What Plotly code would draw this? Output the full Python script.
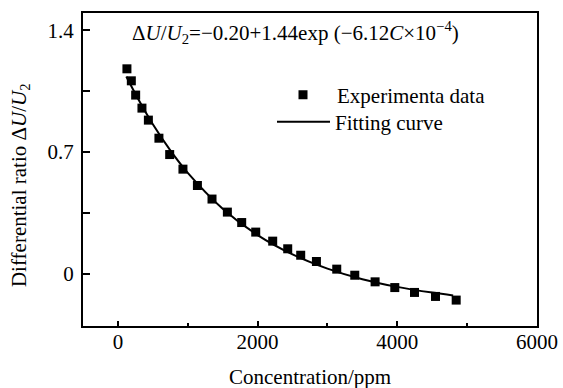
import plotly.graph_objects as go

conc = [129, 192, 254, 344, 436, 587, 741, 931, 1138, 1347, 1567, 1772,
        1973, 2216, 2431, 2617, 2842, 3133, 3391, 3682, 3964, 4246, 4547, 4843]
ratio = [1.179, 1.110, 1.028, 0.953, 0.884, 0.780, 0.686, 0.602, 0.508, 0.430, 0.355, 0.295,
         0.240, 0.188, 0.144, 0.107, 0.071, 0.027, -0.008, -0.046, -0.079, -0.107, -0.130, -0.151]

# Fitting curve
fit_conc = [120, 300, 500, 750, 1000, 1500, 2000, 2500, 3000, 3500, 4000, 4500, 4800]
fit_ratio = [1.135, 0.998, 0.860, 0.710, 0.581, 0.375, 0.223, 0.112, 0.030, -0.031, -0.075, -0.108, -0.124]

x_ticks = [0, 2000, 4000, 6000]
y_ticks = [0, 0.7, 1.4]

FONT = "Liberation Serif"

fig = go.Figure()
fig.add_trace(go.Scatter(
    x=conc, y=ratio, mode="markers", name="Experimenta data", legend="legend",
    marker=dict(symbol="square", size=9, color="black", line=dict(width=0)),
))
fig.add_trace(go.Scatter(
    x=fit_conc, y=fit_ratio, mode="lines", name="Fitting curve", legend="legend2",
    line=dict(color="black", width=2, shape="spline", smoothing=1.0),
))

fig.update_layout(
    width=563, height=388,
    margin=dict(l=83, r=26, t=13, b=62),
    paper_bgcolor="white", plot_bgcolor="white",
    font=dict(family=FONT, size=21, color="black"),
    showlegend=True,
    legend=dict(
        x=(269 - 83) / 454, y=0.803, xanchor="left", yanchor="top",
        bgcolor="rgba(0,0,0,0)", borderwidth=0,
        font=dict(family=FONT, size=21, color="black"),
        itemwidth=58,
    ),
    legend2=dict(
        x=(272 - 83) / 454, y=0.717, xanchor="left", yanchor="top",
        bgcolor="rgba(0,0,0,0)", borderwidth=0,
        font=dict(family=FONT, size=21, color="black"),
        itemwidth=53,
    ),
    xaxis=dict(
        range=[-500, 6000], tickvals=x_ticks, ticktext=[str(v) for v in x_ticks],
        ticks="inside", ticklen=5, tickwidth=1.5, tickcolor="black",
        showline=True, linecolor="black", linewidth=2, mirror=True,
        showgrid=False, zeroline=False, automargin=False,
        tickfont=dict(family=FONT, size=21), ticklabelstandoff=-4,
        minor=dict(dtick=1000, tick0=0, ticks="inside", ticklen=3, tickwidth=1.5, tickcolor="black", showgrid=False),
    ),
    yaxis=dict(
        range=[-0.3, 1.5], tickvals=y_ticks, ticktext=["0", "0.7", "1.4"],
        ticks="inside", ticklen=7, tickwidth=1.5, tickcolor="black",
        showline=True, linecolor="black", linewidth=2, mirror=True,
        showgrid=False, zeroline=False, automargin=False,
        tickfont=dict(family=FONT, size=21), ticklabelstandoff=3,
        minor=dict(dtick=0.35, tick0=0, ticks="inside", ticklen=7, tickwidth=1.5, tickcolor="black", showgrid=False),
    ),
)

# axis titles
fig.add_annotation(
    xref="paper", yref="paper", x=0.5, y=-0.163, xanchor="center", yanchor="middle",
    text="Concentration/ppm", showarrow=False, font=dict(family=FONT, size=21, color="black"),
)
fig.add_annotation(
    xref="paper", yref="paper", x=-0.139, y=0.45, xanchor="center", yanchor="middle",
    text="Differential ratio Δ<i>U</i>/<i>U</i><sub>2</sub>", textangle=-90,
    showarrow=False, font=dict(family=FONT, size=21, color="black"),
)

fig.add_annotation(
    xref="paper", yref="paper", x=0.103, y=0.9385, xanchor="left", yanchor="middle",
    text="Δ<i>U</i>/<i>U</i><sub>2</sub>=−0.20+1.44exp (−6.12<i>C</i>×10<sup>−4</sup>)",
    showarrow=False, font=dict(family=FONT, size=21, color="black"),
)

fig.write_html("out.html")
